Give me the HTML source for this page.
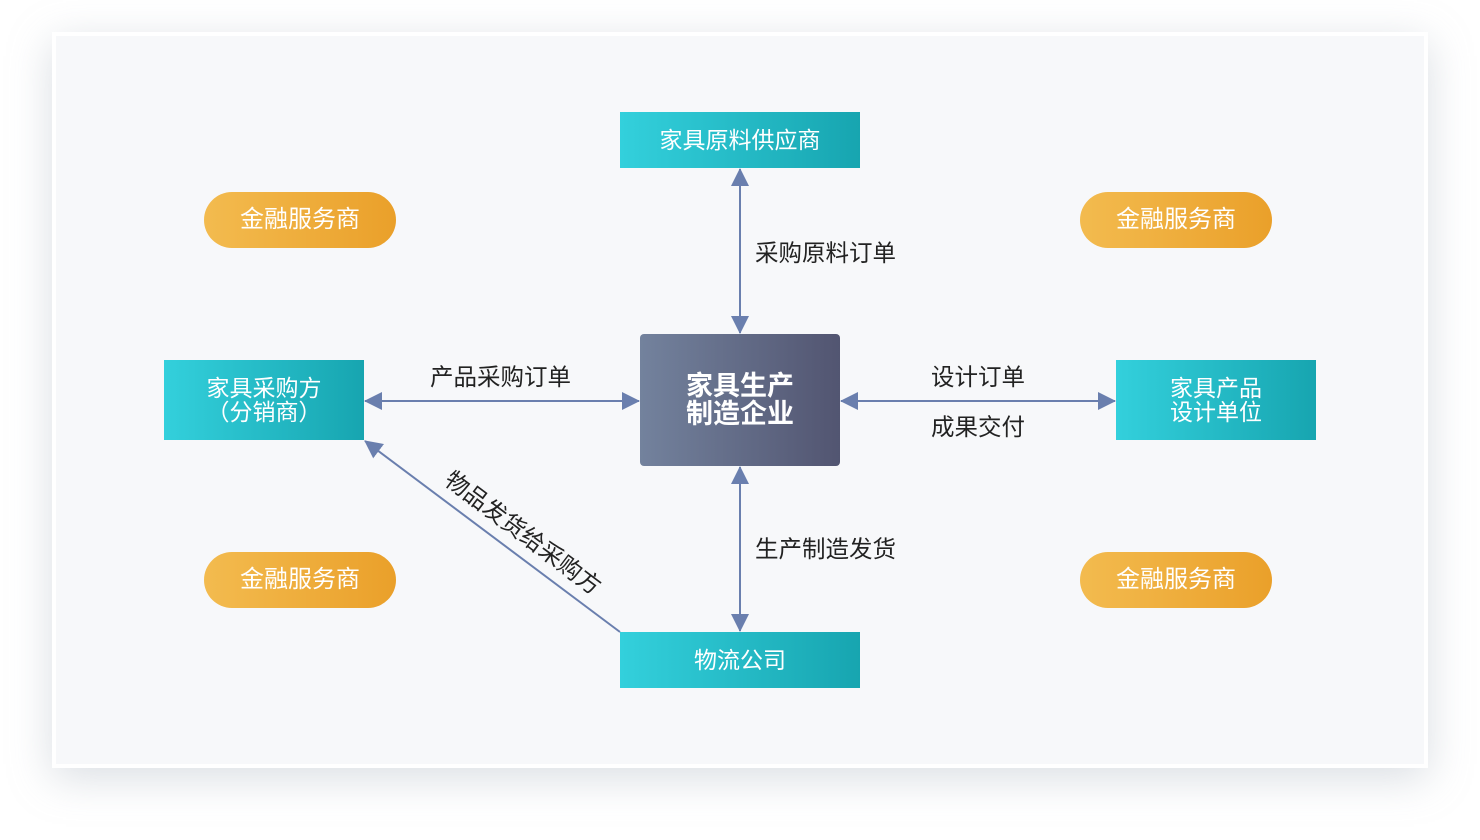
<!DOCTYPE html>
<html><head><meta charset="utf-8"><style>
body{margin:0;width:1480px;height:840px;background:#fff;position:relative;overflow:hidden;font-family:"Liberation Sans","Noto Sans CJK SC",sans-serif;}
.card{position:absolute;left:52px;top:32px;width:1368px;height:728px;background:#f7f8fa;border:4px solid #fff;box-shadow:0 10px 40px rgba(150,160,175,0.35);}
.b{position:absolute;display:flex;align-items:center;justify-content:center;text-align:center;color:#fff;font-size:23px;line-height:24px;}
.t{background:linear-gradient(90deg,#33d0dc,#17a5b0);}
.o{background:linear-gradient(90deg,#f3bb4f,#eaa02a);border-radius:28px;font-size:24px;}
.l{position:absolute;font-size:23.5px;color:#222;white-space:nowrap;line-height:28px;}
</style></head><body>
<div class="card"></div>
<svg width="1480" height="840" style="position:absolute;left:0;top:0">
<defs>
<marker id="m" markerWidth="18" markerHeight="18" refX="17" refY="9" orient="auto-start-reverse" markerUnits="userSpaceOnUse" viewBox="0 0 18 18"><path d="M0,0L18,9L0,18z" fill="#6a7fae"/></marker></defs>
<g stroke="#6a7fae" stroke-width="2" fill="none">
<line x1="740" y1="169" x2="740" y2="333" marker-start="url(#m)" marker-end="url(#m)"/>
<line x1="740" y1="467" x2="740" y2="631" marker-start="url(#m)" marker-end="url(#m)"/>
<line x1="365" y1="401" x2="639" y2="401" marker-start="url(#m)" marker-end="url(#m)"/>
<line x1="841" y1="401" x2="1115" y2="401" marker-start="url(#m)" marker-end="url(#m)"/>
<line x1="620" y1="632" x2="365" y2="441" marker-end="url(#m)"/>
</g></svg>
<div class="b t" style="left:620px;top:112px;width:240px;height:56px">家具原料供应商</div>
<div class="b t" style="left:620px;top:632px;width:240px;height:56px">物流公司</div>
<div class="b t" style="left:164px;top:360px;width:200px;height:80px">家具采购方<br>（分销商）</div>
<div class="b t" style="left:1116px;top:360px;width:200px;height:80px">家具产品<br>设计单位</div>
<div class="b" style="left:640px;top:334px;width:200px;height:132px;border-radius:4px;background:linear-gradient(90deg,#73829d,#525571);font-size:27px;font-weight:bold;line-height:28px">家具生产<br>制造企业</div>
<div class="b o" style="left:204px;top:192px;width:192px;height:56px">金融服务商</div>
<div class="b o" style="left:1080px;top:192px;width:192px;height:56px">金融服务商</div>
<div class="b o" style="left:204px;top:552px;width:192px;height:56px">金融服务商</div>
<div class="b o" style="left:1080px;top:552px;width:192px;height:56px">金融服务商</div>
<div class="l" style="left:755px;top:239px">采购原料订单</div>
<div class="l" style="left:755px;top:535px">生产制造发货</div>
<div class="l" style="left:430px;top:363px">产品采购订单</div>
<div class="l" style="left:931px;top:363px">设计订单</div>
<div class="l" style="left:931px;top:413px">成果交付</div>
<div class="l" style="left:423px;top:519px;width:200px;text-align:center;transform:rotate(36.87deg);transform-origin:center">物品发货给采购方</div>
</body></html>
